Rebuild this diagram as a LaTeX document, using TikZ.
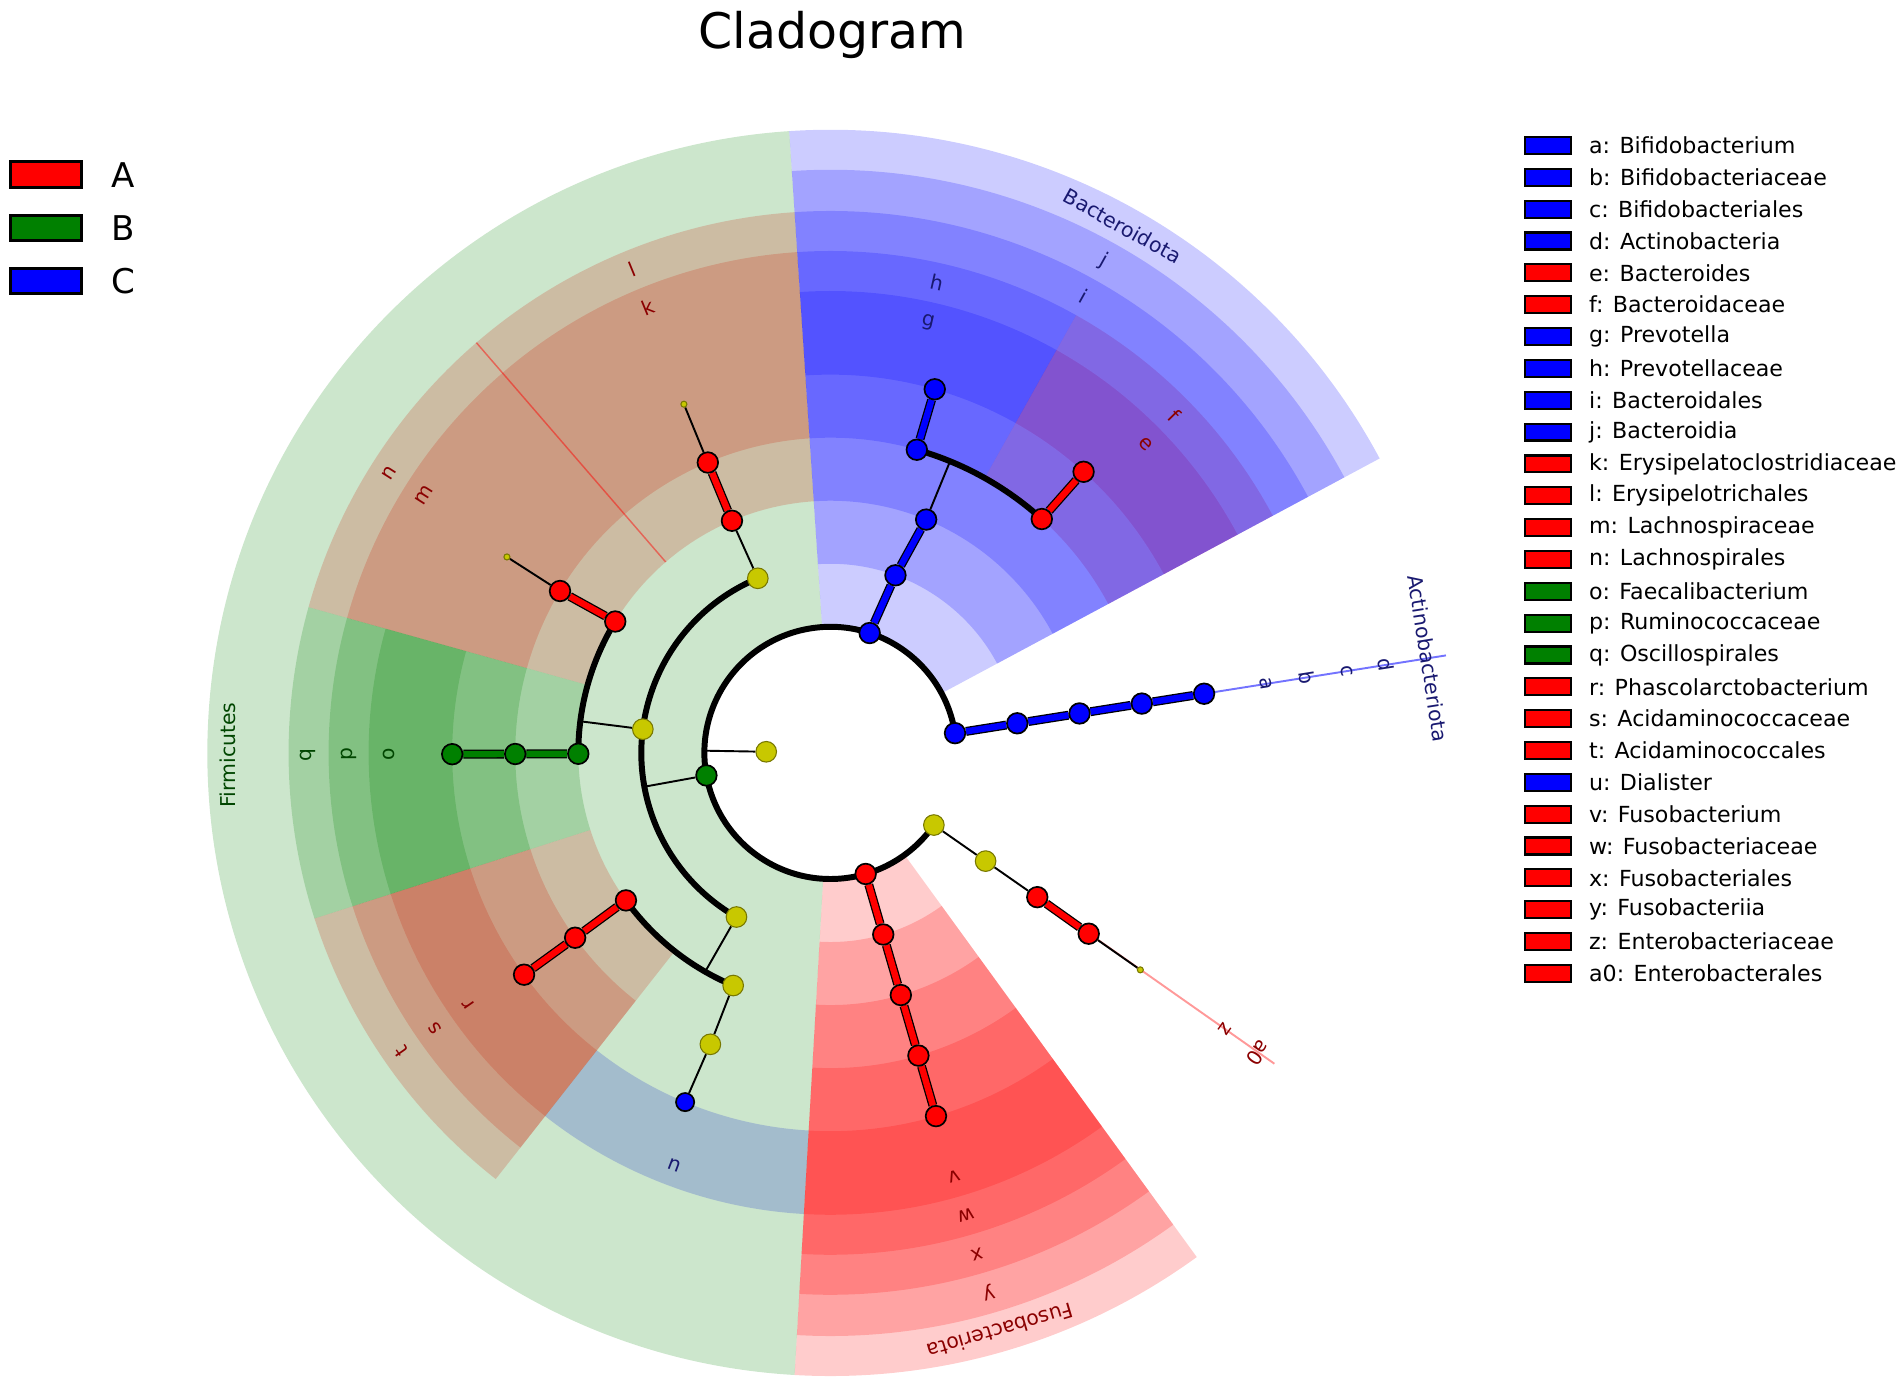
\documentclass[tikz,border=0pt]{standalone}
\usepackage{fontspec}
\setmainfont{DejaVu Sans}
\usepackage{tikz}
\usepackage{xcolor}
\usetikzlibrary{positioning}
\definecolor{cladered}{RGB}{255,0,0}
\definecolor{cladegreen}{RGB}{0,128,0}
\definecolor{cladeblue}{RGB}{0,0,255}
\definecolor{cladeyellow}{RGB}{200,200,0}
\definecolor{tagred}{RGB}{139,0,0}
\definecolor{tagblue}{RGB}{25,25,112}
\definecolor{taggreen}{RGB}{0,70,0}
\pgfdeclarelayer{fans}
\pgfdeclarelayer{links}
\pgfsetlayers{fans,links,main}
\tikzstyle{rnode} = [circle, draw=black, line width=0.8pt, fill=cladered, minimum size=0.34cm, inner sep=0pt]
\tikzstyle{gnode} = [rnode, fill=cladegreen]
\tikzstyle{bnode} = [rnode, fill=cladeblue]
\tikzstyle{ynode} = [rnode, draw=cladeyellow!60!black, line width=0.5pt, fill=cladeyellow]
\tikzstyle{ydot} = [ynode, minimum size=0.1cm]
\tikzstyle{branch} = [black, line width=0.9pt]
\tikzstyle{ring} = [black, line width=2.8pt]
\tikzstyle{redlink} = [draw=black, line width=0.6pt, double=cladered, double distance=3pt]
\tikzstyle{greenlink} = [redlink, double=cladegreen]
\tikzstyle{bluelink} = [redlink, double=cladeblue]
\tikzstyle{redfan} = [fill=cladered, fill opacity=0.2]
\tikzstyle{greenfan} = [fill=cladegreen, fill opacity=0.2]
\tikzstyle{bluefan} = [fill=cladeblue, fill opacity=0.2]
\tikzstyle{cladetag} = [inner sep=0pt, font=\fontsize{9.5}{11}\selectfont]
\tikzstyle{phylumtag} = [inner sep=0pt, font=\fontsize{9.6}{11}\selectfont]
\tikzstyle{legbox} = [rectangle, draw=black, line width=1pt, minimum width=0.76cm, minimum height=0.28cm, inner sep=0pt]
\tikzstyle{legtext} = [inner sep=0pt, font=\fontsize{10.4}{12}\selectfont]
\tikzstyle{grpbox} = [rectangle, draw=black, line width=1.4pt, minimum width=1.18cm, minimum height=0.42cm, inner sep=0pt]
\tikzstyle{grptext} = [inner sep=0pt, font=\fontsize{16}{19}\selectfont]
\newcommand{\cladefan}[5]{\fill[#1] (#2:#4) arc[start angle=#2, end angle=#3, radius=#4] -- (#3:#5) arc[start angle=#3, end angle=#2, radius=#5] -- cycle;}

\begin{document}
\begin{tikzpicture}[x=0.02cm, y=0.02cm, node distance=0.5254cm]
\useasboundingbox (-685,-523) rectangle (883,621);

\node (title) [anchor=base, font=\fontsize{23}{28}\selectfont] at (1.5,581) {Cladogram};

% highlighted clades, deepest level first
\begin{pgfonlayer}{fans}
% genus
\cladefan{greenfan}{164.4}{197.8}{312}{381}
\cladefan{redfan}{197.8}{231.85}{312}{381}
\cladefan{bluefan}{231.85}{266.7}{312}{381}
\cladefan{bluefan}{60.7}{93.8}{312}{381}
\cladefan{redfan}{28.2}{60.7}{312}{381}
\cladefan{redfan}{266.7}{306}{312}{381}
% family
\cladefan{redfan}{93.8}{130.8}{260}{414}
\cladefan{redfan}{130.8}{164.4}{260}{414}
\cladefan{greenfan}{164.4}{197.8}{260}{414}
\cladefan{redfan}{197.8}{231.85}{260}{414}
\cladefan{bluefan}{60.7}{93.8}{260}{414}
\cladefan{redfan}{28.2}{60.7}{260}{414}
\cladefan{redfan}{266.7}{306}{260}{414}
% order
\cladefan{redfan}{93.8}{130.8}{208}{447}
\cladefan{redfan}{130.8}{164.4}{208}{447}
\cladefan{greenfan}{164.4}{197.8}{208}{447}
\cladefan{redfan}{197.8}{231.85}{208}{447}
\cladefan{bluefan}{28.2}{93.8}{208}{447}
\cladefan{redfan}{266.7}{306}{208}{447}
% class
\cladefan{bluefan}{28.2}{93.8}{156}{481}
\cladefan{redfan}{266.7}{306}{156}{481}
% phylum
\cladefan{greenfan}{93.8}{266.7}{104}{514}
\cladefan{bluefan}{28.2}{93.8}{104}{514}
\cladefan{redfan}{266.7}{306}{104}{514}
\draw [cladered, opacity=0.45, line width=0.7pt] (130.8:208) -- (130.8:447);
\end{pgfonlayer}

% tree nodes
\node (root0) [ynode] at (179:53) {};
\node (acti1) [bnode] at (9:104) {};
\node (acti2) [bnode] at (9:156) {};
\node (acti3) [bnode] at (9:208) {};
\node (acti4) [bnode] at (9:260) {};
\node (acti5) [bnode] at (9:312) {};
\node (bact1) [bnode] at (71.9:104) {};
\node (bact2) [bnode] at (69.9:156) {};
\node (bact3) [bnode] at (67.7:208) {};
\node (bacth) [bnode] at (74.1:260) {};
\node (bactg) [bnode] at (74:312) {};
\node (bactf) [rnode] at (47.9:260) {};
\node (bacte) [rnode] at (48:312) {};
\node (firm1) [gnode] at (190.3:104) {};
\node (firmery) [ynode] at (112.6:156) {};
\node (firmclo) [ynode] at (172.8:156) {};
\node (firmneg) [ynode] at (240.2:156) {};
\node (erysl) [rnode] at (113:208) {};
\node (erysk) [rnode] at (112.9:260) {};
\node (erysgen) [ydot] at (112.8:312) {};
\node (clon) [rnode] at (148.6:208) {};
\node (clom) [rnode] at (149.1:260) {};
\node (clogen) [ydot] at (148.8:312) {};
\node (cloq) [gnode] at (180.2:208) {};
\node (clop) [gnode] at (180.2:260) {};
\node (cloo) [gnode] at (180.2:312) {};
\node (negt) [rnode] at (215.8:208) {};
\node (negs) [rnode] at (215.9:260) {};
\node (negr) [rnode] at (215.9:312) {};
\node (negord) [ynode] at (247.3:208) {};
\node (negfam) [ynode] at (247.6:260) {};
\node (negu) [bnode, minimum size=0.3cm] at (247.4:312) {};
\node (fuso1) [rnode] at (286.2:104) {};
\node (fuso2) [rnode] at (286.2:156) {};
\node (fuso3) [rnode] at (286.2:208) {};
\node (fuso4) [rnode] at (286.2:260) {};
\node (fuso5) [rnode] at (286.2:312) {};
\node (prot1) [ynode] at (325.1:104) {};
\node (prot2) [ynode] at (325.1:156) {};
\node (prot3) [rnode] at (325.1:208) {};
\node (prot4) [rnode] at (325:260) {};
\node (prot5) [ydot] at (325:312) {};

\coordinate (rootjoin) at (179:104);
\coordinate (firmjoin) at (190.3:156);
\coordinate (clojoin) at (172.8:208);
\coordinate (negjoin) at (240.2:208);
\coordinate (bactjoin) at (67.7:260);
\coordinate (actiend) at (9:514);
\coordinate (protend) at (325:447);

\begin{pgfonlayer}{fans}
\draw [cladeblue, opacity=0.55, line width=0.9pt] (acti5) -- (actiend);
\draw [cladered!40, line width=0.9pt] (prot3) -- (protend);
\end{pgfonlayer}

% branches
\begin{pgfonlayer}{links}
\draw [ring] (acti1.center) arc[start angle=9, end angle=325.1, radius=104];
\draw [ring] (firmery.center) arc[start angle=112.6, end angle=240.2, radius=156];
\draw [ring] (clon.center) arc[start angle=148.6, end angle=180.2, radius=208];
\draw [ring] (negt.center) arc[start angle=215.8, end angle=247.3, radius=208];
\draw [ring] (bacth.center) arc[start angle=74.1, end angle=47.9, radius=260];
\draw [branch] (root0) -- (rootjoin);
\draw [branch] (firm1) -- (firmjoin);
\draw [branch] (firmclo) -- (clojoin);
\draw [branch] (firmneg) -- (negjoin);
\draw [branch] (bact3) -- (bactjoin);
\draw [branch] (firmery) -- (erysl);
\draw [branch] (erysk) -- (erysgen);
\draw [branch] (clom) -- (clogen);
\draw [branch] (negord) -- (negfam);
\draw [branch] (negfam) -- (negu);
\draw [branch] (prot1) -- (prot2);
\draw [branch] (prot2) -- (prot3);
\draw [branch] (prot4) -- (prot5);
\draw [bluelink] (acti1) -- (acti2);
\draw [bluelink] (acti2) -- (acti3);
\draw [bluelink] (acti3) -- (acti4);
\draw [bluelink] (acti4) -- (acti5);
\draw [bluelink] (bact1) -- (bact2);
\draw [bluelink] (bact2) -- (bact3);
\draw [bluelink] (bacth) -- (bactg);
\draw [redlink] (bactf) -- (bacte);
\draw [redlink] (erysl) -- (erysk);
\draw [redlink] (clon) -- (clom);
\draw [greenlink] (cloq) -- (clop);
\draw [greenlink] (clop) -- (cloo);
\draw [redlink] (negt) -- (negs);
\draw [redlink] (negs) -- (negr);
\draw [redlink] (fuso1) -- (fuso2);
\draw [redlink] (fuso2) -- (fuso3);
\draw [redlink] (fuso3) -- (fuso4);
\draw [redlink] (fuso4) -- (fuso5);
\draw [redlink] (prot3) -- (prot4);
\end{pgfonlayer}

% clade letters
\node (taga) [cladetag, text=tagblue, rotate=-81] at (9:364) {a};
\node (tagb) [cladetag, text=tagblue, rotate=-81] at (9:397.5) {b};
\node (tagc) [cladetag, text=tagblue, rotate=-81] at (9:431) {c};
\node (tagd) [cladetag, text=tagblue, rotate=-81] at (9:464) {d};
\node (tagacti) [phylumtag, text=tagblue, rotate=-81] at (9:499) {Actinobacteriota};
\node (tage) [cladetag, text=tagred, rotate=-45.55] at (44.45:364) {e};
\node (tagf) [cladetag, text=tagred, rotate=-45.55] at (44.45:397.5) {f};
\node (tagg) [cladetag, text=tagblue, rotate=-12.75] at (77.25:364) {g};
\node (tagh) [cladetag, text=tagblue, rotate=-12.75] at (77.25:397.5) {h};
\node (tagi) [cladetag, text=tagblue, rotate=-29] at (61:431) {i};
\node (tagj) [cladetag, text=tagblue, rotate=-29] at (61:464) {j};
\node (tagbact) [phylumtag, text=tagblue, rotate=-29] at (61:497) {Bacteroidota};
\node (tagk) [cladetag, text=tagred, rotate=22.3] at (112.3:397.5) {k};
\node (tagl) [cladetag, text=tagred, rotate=22.3] at (112.3:431) {l};
\node (tagm) [cladetag, text=tagred, rotate=57.6] at (147.6:397.5) {m};
\node (tagn) [cladetag, text=tagred, rotate=57.6] at (147.6:431) {n};
\node (tago) [cladetag, text=taggreen, rotate=90.2] at (180.2:364) {o};
\node (tagp) [cladetag, text=taggreen, rotate=90.2] at (180.2:397.5) {p};
\node (tagq) [cladetag, text=taggreen, rotate=90.2] at (180.2:431) {q};
\node (tagfirm) [phylumtag, text=taggreen, rotate=90.2] at (180.2:497) {Firmicutes};
\node (tagr) [cladetag, text=tagred, rotate=124.8] at (214.8:364) {r};
\node (tags) [cladetag, text=tagred, rotate=124.8] at (214.8:397.5) {s};
\node (tagt) [cladetag, text=tagred, rotate=124.8] at (214.8:431) {t};
\node (tagu) [cladetag, text=tagblue, rotate=159.3] at (249.3:364) {u};
\node (tagv) [cladetag, text=tagred, rotate=196.35] at (286.35:364) {v};
\node (tagw) [cladetag, text=tagred, rotate=196.35] at (286.35:397.5) {w};
\node (tagx) [cladetag, text=tagred, rotate=196.35] at (286.35:431) {x};
\node (tagy) [cladetag, text=tagred, rotate=196.35] at (286.35:464) {y};
\node (tagfuso) [phylumtag, text=tagred, rotate=196.35] at (286.35:497) {Fusobacteriota};
\node (tagz) [cladetag, text=tagred, rotate=235] at (325:397.5) {z};
\node (taga0) [cladetag, text=tagred, rotate=235] at (325:431) {a0};

% group legend
\node (grpa) [grpbox, fill=cladered] at (-647,477) {};
\node (grpb) [grpbox, fill=cladegreen, below of=grpa, node distance=0.88cm] {};
\node (grpc) [grpbox, fill=cladeblue, below of=grpb, node distance=0.88cm] {};
\node (namea) [grptext, right=0.46cm of grpa] {A};
\node (nameb) [grptext, right=0.46cm of grpb] {B};
\node (namec) [grptext, right=0.46cm of grpc] {C};

% biomarker legend
\node (boxa) [legbox, fill=cladeblue] at (592,501) {};
\node (boxb) [legbox, fill=cladeblue, below of=boxa] {};
\node (boxc) [legbox, fill=cladeblue, below of=boxb] {};
\node (boxd) [legbox, fill=cladeblue, below of=boxc] {};
\node (boxe) [legbox, fill=cladered, below of=boxd] {};
\node (boxf) [legbox, fill=cladered, below of=boxe] {};
\node (boxg) [legbox, fill=cladeblue, below of=boxf] {};
\node (boxh) [legbox, fill=cladeblue, below of=boxg] {};
\node (boxi) [legbox, fill=cladeblue, below of=boxh] {};
\node (boxj) [legbox, fill=cladeblue, below of=boxi] {};
\node (boxk) [legbox, fill=cladered, below of=boxj] {};
\node (boxl) [legbox, fill=cladered, below of=boxk] {};
\node (boxm) [legbox, fill=cladered, below of=boxl] {};
\node (boxn) [legbox, fill=cladered, below of=boxm] {};
\node (boxo) [legbox, fill=cladegreen, below of=boxn] {};
\node (boxp) [legbox, fill=cladegreen, below of=boxo] {};
\node (boxq) [legbox, fill=cladegreen, below of=boxp] {};
\node (boxr) [legbox, fill=cladered, below of=boxq] {};
\node (boxs) [legbox, fill=cladered, below of=boxr] {};
\node (boxt) [legbox, fill=cladered, below of=boxs] {};
\node (boxu) [legbox, fill=cladeblue, below of=boxt] {};
\node (boxv) [legbox, fill=cladered, below of=boxu] {};
\node (boxw) [legbox, fill=cladered, below of=boxv] {};
\node (boxx) [legbox, fill=cladered, below of=boxw] {};
\node (boxy) [legbox, fill=cladered, below of=boxx] {};
\node (boxz) [legbox, fill=cladered, below of=boxy] {};
\node (boxa0) [legbox, fill=cladered, below of=boxz] {};
\node (keya) [legtext, right=0.27cm of boxa] {a: Bifidobacterium};
\node (keyb) [legtext, right=0.27cm of boxb] {b: Bifidobacteriaceae};
\node (keyc) [legtext, right=0.27cm of boxc] {c: Bifidobacteriales};
\node (keyd) [legtext, right=0.27cm of boxd] {d: Actinobacteria};
\node (keye) [legtext, right=0.27cm of boxe] {e: Bacteroides};
\node (keyf) [legtext, right=0.27cm of boxf] {f: Bacteroidaceae};
\node (keyg) [legtext, right=0.27cm of boxg] {g: Prevotella};
\node (keyh) [legtext, right=0.27cm of boxh] {h: Prevotellaceae};
\node (keyi) [legtext, right=0.27cm of boxi] {i: Bacteroidales};
\node (keyj) [legtext, right=0.27cm of boxj] {j: Bacteroidia};
\node (keyk) [legtext, right=0.27cm of boxk] {k: Erysipelatoclostridiaceae};
\node (keyl) [legtext, right=0.27cm of boxl] {l: Erysipelotrichales};
\node (keym) [legtext, right=0.27cm of boxm] {m: Lachnospiraceae};
\node (keyn) [legtext, right=0.27cm of boxn] {n: Lachnospirales};
\node (keyo) [legtext, right=0.27cm of boxo] {o: Faecalibacterium};
\node (keyp) [legtext, right=0.27cm of boxp] {p: Ruminococcaceae};
\node (keyq) [legtext, right=0.27cm of boxq] {q: Oscillospirales};
\node (keyr) [legtext, right=0.27cm of boxr] {r: Phascolarctobacterium};
\node (keys) [legtext, right=0.27cm of boxs] {s: Acidaminococcaceae};
\node (keyt) [legtext, right=0.27cm of boxt] {t: Acidaminococcales};
\node (keyu) [legtext, right=0.27cm of boxu] {u: Dialister};
\node (keyv) [legtext, right=0.27cm of boxv] {v: Fusobacterium};
\node (keyw) [legtext, right=0.27cm of boxw] {w: Fusobacteriaceae};
\node (keyx) [legtext, right=0.27cm of boxx] {x: Fusobacteriales};
\node (keyy) [legtext, right=0.27cm of boxy] {y: Fusobacteriia};
\node (keyz) [legtext, right=0.27cm of boxz] {z: Enterobacteriaceae};
\node (keya0) [legtext, right=0.27cm of boxa0] {a0: Enterobacterales};
\end{tikzpicture}
\end{document}
